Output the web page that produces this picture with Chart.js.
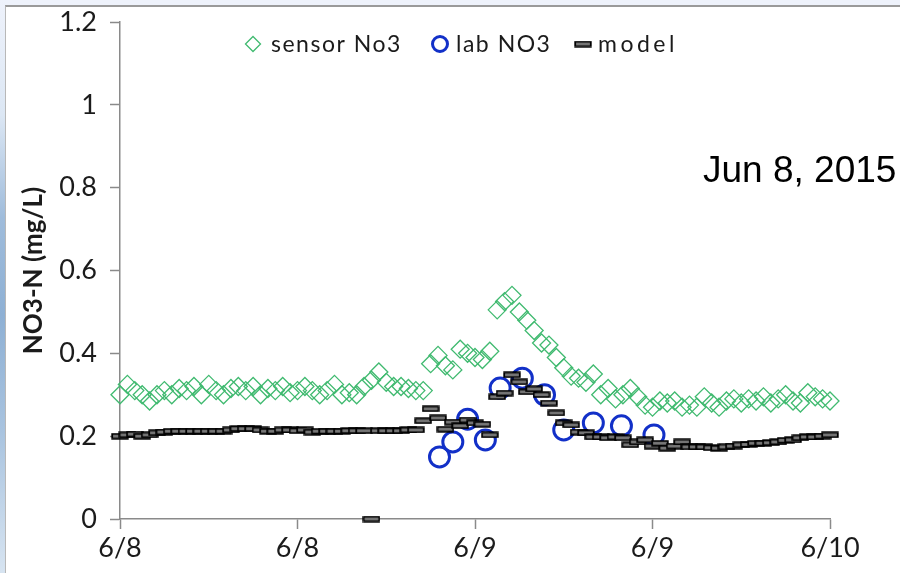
<!DOCTYPE html>
<html>
<head>
<meta charset="utf-8">
<script src="https://cdn.jsdelivr.net/npm/chart.js@4.4.1/dist/chart.umd.min.js"></script>
<style>
  html, body { margin:0; padding:0; width:900px; height:573px; overflow:hidden; background:#eef2fb; }
  #strip { position:absolute; left:0; top:0; width:6px; height:573px;
    background: linear-gradient(to bottom, #eef2fb 0%, #dce7f4 20%, #9fbcdb 38%, #8eb0d4 55%, #a8c3df 75%, #d7e4f1 100%); }
  #panel { position:absolute; left:5px; top:5px; width:895px; height:568px; background:#fff;
    border-top:2px solid #9a9a9a; border-left:1px solid #b8b8b8; box-sizing:border-box; }
  #c { position:absolute; left:0; top:0; }
</style>
</head>
<body>
<div id="strip"></div>
<div id="panel"></div>
<canvas id="c" width="900" height="573"></canvas>
<script>
// ---------- DATA ----------
const seriesNames = ['sensor No3', 'lab NO3', 'model'];
const annotationText = 'Jun 8, 2015';
const yAxisTitle = 'NO3-N (mg/L)';
const xTickLabels = ['6/8', '6/8', '6/9', '6/9', '6/10'];   // every 12 h
const yTickLabels = ['0', '0.2', '0.4', '0.6', '0.8', '1', '1.2'];

// hours since 6/8 00:00 (half-hourly sampling)
const sampleHours = [0,0.5,1,1.5,2,2.5,3,3.5,4,4.5,5,5.5,6,6.5,7,7.5,8,8.5,9,9.5,
  10,10.5,11,11.5,12,12.5,13,13.5,14,14.5,15,15.5,16,16.5,17,17.5,18,18.5,19,19.5,
  20,20.5,21,21.5,22,22.5,23,23.5,24,24.5,25,25.5,26,26.5,27,27.5,28,28.5,29,29.5,
  30,30.5,31,31.5,32,32.5,33,33.5,34,34.5,35,35.5,36,36.5,37,37.5,38,38.5,39,39.5,
  40,40.5,41,41.5,42,42.5,43,43.5,44,44.5,45,45.5,46,46.5,47,47.5,48];

const sensorValues = [0.300,0.325,0.310,0.300,0.285,0.300,0.310,0.300,0.315,0.310,
  0.320,0.300,0.325,0.310,0.300,0.315,0.320,0.310,0.320,0.300,
  0.315,0.310,0.320,0.305,0.310,0.320,0.310,0.300,0.310,0.325,
  0.300,0.305,0.300,0.320,0.335,0.355,0.330,0.320,0.320,0.315,
  0.310,0.310,0.375,0.395,0.370,0.360,0.410,0.400,0.390,0.385,
  0.405,0.505,0.525,0.540,0.500,0.480,0.455,0.425,0.420,0.390,
  0.365,0.345,0.340,0.330,0.350,0.300,0.315,0.290,0.300,0.315,
  0.295,0.275,0.270,0.285,0.280,0.285,0.270,0.275,0.270,0.295,
  0.280,0.270,0.285,0.290,0.280,0.290,0.285,0.295,0.280,0.290,
  0.300,0.285,0.280,0.305,0.295,0.290,0.285];

const modelValues = [0.200,0.203,0.205,0.200,0.203,0.208,0.210,0.212,0.212,0.212,
  0.212,0.212,0.212,0.212,0.212,0.215,0.218,0.218,0.218,0.215,
  0.212,0.212,0.215,0.215,0.213,0.215,0.210,0.212,0.212,0.212,
  0.212,0.213,0.213,0.213,0.000,0.213,0.213,0.213,0.213,0.215,
  0.215,0.237,0.266,0.244,0.217,0.234,0.225,0.239,0.232,0.229,
  0.203,0.295,0.304,0.348,0.331,0.307,0.314,0.300,0.280,0.256,
  0.232,0.227,0.210,0.208,0.198,0.198,0.196,0.198,0.196,0.179,
  0.186,0.191,0.176,0.183,0.171,0.176,0.186,0.174,0.174,0.174,
  0.172,0.171,0.174,0.176,0.179,0.180,0.183,0.183,0.184,0.186,
  0.190,0.191,0.196,0.198,0.198,0.200,0.203];

const labHours  = [21.6, 22.5, 23.5, 24.7, 25.7, 27.2, 28.7, 30.0, 32.0, 33.9, 36.1];
const labValues = [0.150, 0.186, 0.241, 0.191, 0.316, 0.340, 0.300, 0.215, 0.232, 0.225, 0.203];

// ---------- STYLE ----------
const GREEN = 'rgb(64,186,112)';
const BLUE = 'rgb(18,48,200)';
const AXIS = '#8a8a8a';
const TEXT = '#1b1b1b';

// model marker: small grey bar with black outline
const dashMarker = document.createElement('canvas');
dashMarker.width = 18; dashMarker.height = 7;
(function(){
  const c = dashMarker.getContext('2d');
  c.fillStyle = '#7a7a7a';
  c.fillRect(1, 1, 16, 5);
  c.strokeStyle = '#000';
  c.lineWidth = 1.8;
  c.strokeRect(1.2, 1.2, 15.6, 4.6);
})();

const toXY = (xs, ys) => xs.map((x, i) => ({x: x, y: ys[i]}));

const inlineLegend = {
  id: 'inlineLegend',
  afterDraw(chart, args, opts) {
    const ctx = chart.ctx;
    ctx.save();
    const xs = opts.markerX;
    [0, 1, 2].forEach((di, k) => {
      const ds = chart.data.datasets[di];
      const x = xs[k], y = opts.y;
      ctx.strokeStyle = ds.borderColor;
      ctx.fillStyle = ds.backgroundColor;
      ctx.lineWidth = opts.lineWidths[k];
      Chart.helpers.drawPoint(ctx, {pointStyle: ds.pointStyle, rotation: 0,
        radius: opts.radii[k], borderWidth: opts.lineWidths[k]}, x, y);
      ctx.fillStyle = TEXT;
      ctx.font = opts.font;
      try { ctx.letterSpacing = opts.letterSpacing[k]; } catch (e) {}
      ctx.textBaseline = 'middle';
      ctx.textAlign = 'left';
      ctx.fillText(ds.label, opts.textX[k], y + 1);
      try { ctx.letterSpacing = '0px'; } catch (e) {}
    });
    // date annotation
    ctx.font = '37px "Liberation Sans", Arial, sans-serif';
    ctx.fillStyle = '#000';
    ctx.textBaseline = 'alphabetic';
    ctx.fillText(annotationText, 703, 182);
    ctx.restore();
  }
};

new Chart(document.getElementById('c'), {
  type: 'scatter',
  data: {
    datasets: [
      { label: seriesNames[0], data: toXY(sampleHours, sensorValues),
        pointStyle: 'rectRot', pointRadius: 9, pointHoverRadius: 9,
        borderColor: GREEN, backgroundColor: 'rgba(0,0,0,0)', borderWidth: 1.3,
        showLine: false, clip: false, order: 2 },
      { label: seriesNames[1], data: toXY(labHours, labValues),
        pointStyle: 'circle', pointRadius: 10, pointHoverRadius: 10,
        borderColor: BLUE, backgroundColor: 'rgba(0,0,0,0)', borderWidth: 3,
        showLine: false, clip: false, order: 1 },
      { label: seriesNames[2], data: toXY(sampleHours, modelValues),
        pointStyle: dashMarker, pointRadius: 8,
        borderColor: '#000', backgroundColor: '#7a7a7a', borderWidth: 1.5,
        showLine: false, clip: false, order: 0 }
    ]
  },
  options: {
    responsive: false,
    animation: false,
    devicePixelRatio: 1,
    layout: { padding: { top: 22, right: 70, left: 0, bottom: 0 } },
    plugins: {
      legend: { display: false },
      tooltip: { enabled: false },
      inlineLegend: {
        y: 44,
        markerX: [253, 440, 583],
        textX: [271, 456, 598],
        radii: [7.5, 7.5, 8],
        lineWidths: [1.3, 3, 1.5],
        font: '23px Lato, "Open Sans", sans-serif',
        letterSpacing: ['1.5px', '1.5px', '3.5px']
      }
    },
    scales: {
      x: {
        type: 'linear', min: 0, max: 48,
        afterFit: (s) => { s.height = 54; },
        ticks: { stepSize: 12, color: TEXT, padding: 3, maxRotation: 0,
          font: { family: 'Lato', size: 27 },
          callback: (v) => xTickLabels[Math.round(v / 12)] },
        grid: { drawOnChartArea: false, drawTicks: true, tickLength: 10, tickColor: AXIS, tickWidth: 1.5 },
        border: { display: true, color: AXIS, width: 1.5 }
      },
      y: {
        type: 'linear', min: 0, max: 1.2,
        afterFit: (s) => { s.width = 120; s.paddingTop = 0; s.paddingBottom = 0; },
        ticks: { stepSize: 0.2, color: TEXT, padding: 13,
          font: { family: 'Lato', size: 27 },
          callback: (v) => yTickLabels[Math.round(v * 5)] },
        grid: { drawOnChartArea: false, drawTicks: true, tickLength: 10, tickColor: AXIS, tickWidth: 1.5 },
        border: { display: true, color: AXIS, width: 1.5 },
        title: { display: true, text: yAxisTitle, color: TEXT,
          font: { family: 'Lato', size: 26, weight: 'bold' }, padding: { top: 18, bottom: 0 } }
      }
    }
  },
  plugins: [inlineLegend]
});
</script>
</body>
</html>
